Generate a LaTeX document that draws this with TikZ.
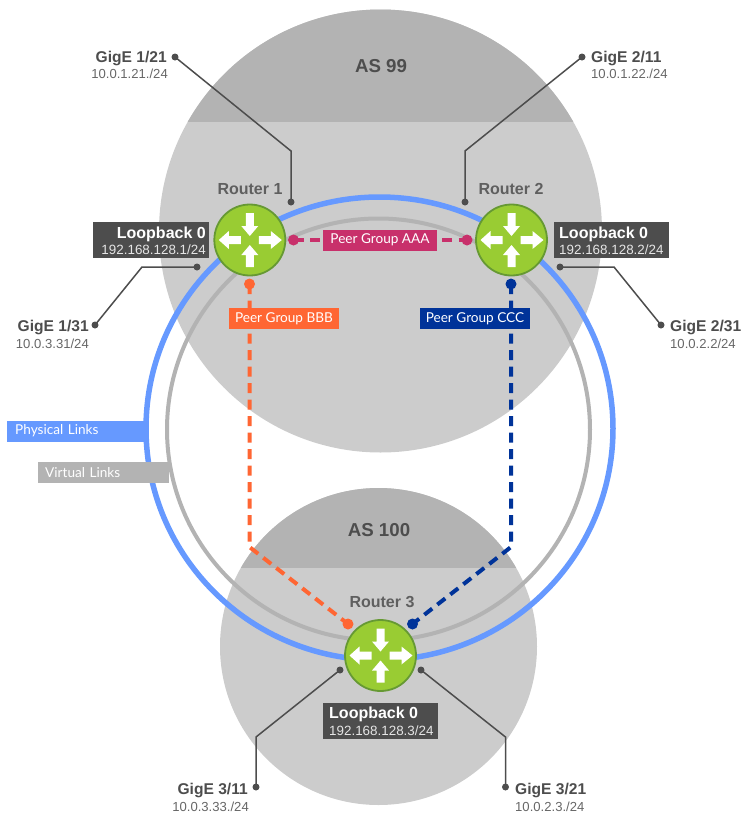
\documentclass[tikz,border=0pt]{standalone}
\usepackage{fontspec}
\setmainfont{Liberation Sans}
\newfontfamily\thinfont{Lato}
\definecolor{asLight}{HTML}{CCCCCC}
\definecolor{asDark}{HTML}{B3B3B3}
\definecolor{linkBlue}{HTML}{6699FF}
\definecolor{linkGray}{HTML}{B3B3B3}
\definecolor{darkBox}{HTML}{4D4D4D}
\definecolor{aaaCol}{HTML}{C8306B}
\definecolor{bbbCol}{HTML}{FF6633}
\definecolor{cccCol}{HTML}{003399}
\definecolor{routerFill}{HTML}{99CC33}
\definecolor{routerEdge}{HTML}{669933}
\definecolor{subText}{HTML}{666666}
\tikzset{
  x=1pt,y=-1pt,
  routerdisc/.style={circle,fill=routerFill,draw=routerEdge,line width=1.8pt,minimum size=71pt,inner sep=0pt},
  routerarrows/.pic={
    \fill[white] (9,-4) -- (21,-4) -- (21,-9) -- (32,0) -- (21,9) -- (21,4) -- (9,4) -- cycle;
    \fill[white] (-9,-4) -- (-21,-4) -- (-21,-9) -- (-31,0) -- (-21,9) -- (-21,4) -- (-9,4) -- cycle;
    \fill[white] (-4,-27) -- (4,-27) -- (4,-14) -- (8.5,-14) -- (0,-4) -- (-8.5,-14) -- (-4,-14) -- cycle;
    \fill[white] (-4,27) -- (4,27) -- (4,15) -- (8.5,15) -- (0,5) -- (-8.5,15) -- (-4,15) -- cycle;
  },
  leader/.style={draw=darkBox,line width=1.5pt},
  leaderdot/.style={circle,fill=darkBox,inner sep=0pt,minimum size=7pt},
  peerdot/.style={circle,fill=#1,inner sep=0pt,minimum size=11pt},
  peerline/.style={draw=#1,line width=4pt,dash pattern=on 10pt off 6.5pt},
  peerbox/.style={fill=#1,text=white,font=\thinfont\fontsize{13.6}{14}\selectfont,inner sep=0pt,minimum width=110pt,minimum height=21pt},
  linkbox/.style={fill=#1,text=white,font=\thinfont\fontsize{13.6}{14}\selectfont,inner ysep=0pt,minimum height=21pt,anchor=west,align=left},
  loopbox/.style={fill=darkBox,inner sep=0pt,minimum width=115.5pt,minimum height=36pt},
  gigename/.style={font=\bfseries\fontsize{15.6}{16}\selectfont,text=darkBox,inner sep=0pt},
  gigeaddr/.style={font=\fontsize{13.1}{14}\selectfont,text=subText,inner sep=0pt},
  routername/.style={font=\bfseries\fontsize{16}{16}\selectfont,text=darkBox!90!white,inner sep=0pt,anchor=base},
  asname/.style={font=\bfseries\fontsize{18.7}{19}\selectfont,text=darkBox,inner sep=0pt,anchor=base},
  looptitle/.style={font=\bfseries\fontsize{16}{16}\selectfont,text=white,inner sep=0pt},
  loopaddr/.style={font=\fontsize{13.4}{14}\selectfont,text=white!90!black,inner sep=0pt},
}
\begin{document}
\begin{tikzpicture}
\useasboundingbox (0,0) rectangle (745,815);
% AS discs
\fill[asLight] (380.5,231) circle [radius=221.5pt];
\begin{scope}
  \clip (380.5,231) circle [radius=221.5pt];
  \fill[asDark] (150,0) rectangle (620,122);
\end{scope}
\fill[asLight] (378.5,646.5) circle [radius=158.5pt];
\begin{scope}
  \clip (378.5,646.5) circle [radius=158.5pt];
  \fill[asDark] (200,480) rectangle (560,568);
\end{scope}
\node[asname] (as99) at (381,72.5) {AS 99};
\node[asname] (as100) at (379,536) {AS 100};
% rings
\draw[linkGray,line width=4pt] (378.5,429.5) ellipse [x radius=211.5pt,y radius=211pt];
\draw[linkBlue,line width=5.5pt] (379.5,428.5) ellipse [x radius=233.5pt,y radius=231.5pt];
% link labels
\node[linkbox=linkBlue,inner xsep=8pt,text width=124pt] (phys) at (7,431) {Physical Links};
\node[linkbox=linkGray,inner xsep=7pt,text width=117pt] (virt) at (38,472.5) {Virtual Links};
% routers
\node[routerdisc] (r1) at (249.8,240) {};
\node[routerdisc] (r2) at (511.5,240) {};
\node[routerdisc] (r3) at (380.5,655.5) {};
\pic at (r1) {routerarrows};
\pic at (r2) {routerarrows};
\pic at (r3) {routerarrows};
\node[routername] (rn1) at (250,194) {Router 1};
\node[routername] (rn2) at (511,194) {Router 2};
\node[routername] (rn3) at (382,607) {Router 3};
% peer groups
\node[peerdot=aaaCol] (a1) at (293.5,240) {};
\node[peerdot=aaaCol] (a2) at (467,240) {};
\draw[peerline=aaaCol] (a1.center) -- (a2.center);
\node[peerbox=aaaCol,minimum width=114pt] (aaa) at (380,240) {Peer Group AAA};
\node[peerdot=bbbCol] (b1) at (249.5,284) {};
\node[peerdot=bbbCol] (b2) at (348,624) {};
\coordinate (b3) at (249.5,547);
\draw[peerline=bbbCol] (b1.center) -- (b3) -- (b2.center);
\node[peerbox=bbbCol] (bbb) at (284,318.5) {Peer Group BBB};
\node[peerdot=cccCol] (c1) at (511,284) {};
\node[peerdot=cccCol] (c2) at (412.5,624) {};
\coordinate (c3) at (511,547);
\draw[peerline=cccCol] (c1.center) -- (c3) -- (c2.center);
\node[peerbox=cccCol] (ccc) at (475,318.5) {Peer Group CCC};
% loopbacks
\node[loopbox] (l1) at (151,240) {};
\node[looptitle,anchor=base east] (l1a) at (206,238) {Loopback 0};
\node[loopaddr,anchor=base east] (l1b) at (206,254.7) {192.168.128.1/24};
\node[loopbox] (l2) at (611.5,240) {};
\node[looptitle,anchor=base west] (l2a) at (559,238) {Loopback 0};
\node[loopaddr,anchor=base west] (l2b) at (559,254.7) {192.168.128.2/24};
\node[loopbox] (l3) at (380.5,721) {};
\node[looptitle,anchor=base west] (l3a) at (329,718) {Loopback 0};
\node[loopaddr,anchor=base west] (l3b) at (329,735) {192.168.128.3/24};
% GigE leaders
\node[leaderdot] (g121) at (175,57) {};
\node[leaderdot] (e121) at (291,202) {};
\coordinate (k121) at (291,151);
\draw[leader] (g121.center) -- (k121) -- (e121.center);
\node[leaderdot] (g211) at (582,57) {};
\node[leaderdot] (e211) at (465,202) {};
\coordinate (k211) at (465,151);
\draw[leader] (g211.center) -- (k211) -- (e211.center);
\node[leaderdot] (g131) at (95,325) {};
\node[leaderdot] (e131) at (197,267) {};
\coordinate (k131) at (142,267);
\draw[leader] (g131.center) -- (k131) -- (e131.center);
\node[leaderdot] (g231) at (661,325) {};
\node[leaderdot] (e231) at (560,267) {};
\coordinate (k231) at (614,267);
\draw[leader] (g231.center) -- (k231) -- (e231.center);
\node[leaderdot] (g311) at (256,787) {};
\node[leaderdot] (e311) at (340,670) {};
\coordinate (k311) at (256,737);
\draw[leader] (g311.center) -- (k311) -- (e311.center);
\node[leaderdot] (g321) at (505.5,787) {};
\node[leaderdot] (e321) at (421,670) {};
\coordinate (k321) at (505.5,737);
\draw[leader] (g321.center) -- (k321) -- (e321.center);
% GigE labels
\node[gigename,anchor=base east] (t121) at (167,62) {GigE 1/21};
\node[gigeaddr,anchor=base east] (s121) at (168,78) {10.0.1.21./24};
\node[gigename,anchor=base west] (t211) at (591,62) {GigE 2/11};
\node[gigeaddr,anchor=base west] (s211) at (591,78) {10.0.1.22./24};
\node[gigename,anchor=base east] (t131) at (89,331) {GigE 1/31};
\node[gigeaddr,anchor=base east] (s131) at (89,348) {10.0.3.31/24};
\node[gigename,anchor=base west] (t231) at (670,331) {GigE 2/31};
\node[gigeaddr,anchor=base west] (s231) at (670,348) {10.0.2.2/24};
\node[gigename,anchor=base east] (t311) at (248,794) {GigE 3/11};
\node[gigeaddr,anchor=base east] (s311) at (249,811) {10.0.3.33./24};
\node[gigename,anchor=base west] (t321) at (515,794) {GigE 3/21};
\node[gigeaddr,anchor=base west] (s321) at (515,811) {10.0.2.3./24};
\end{tikzpicture}
\end{document}
